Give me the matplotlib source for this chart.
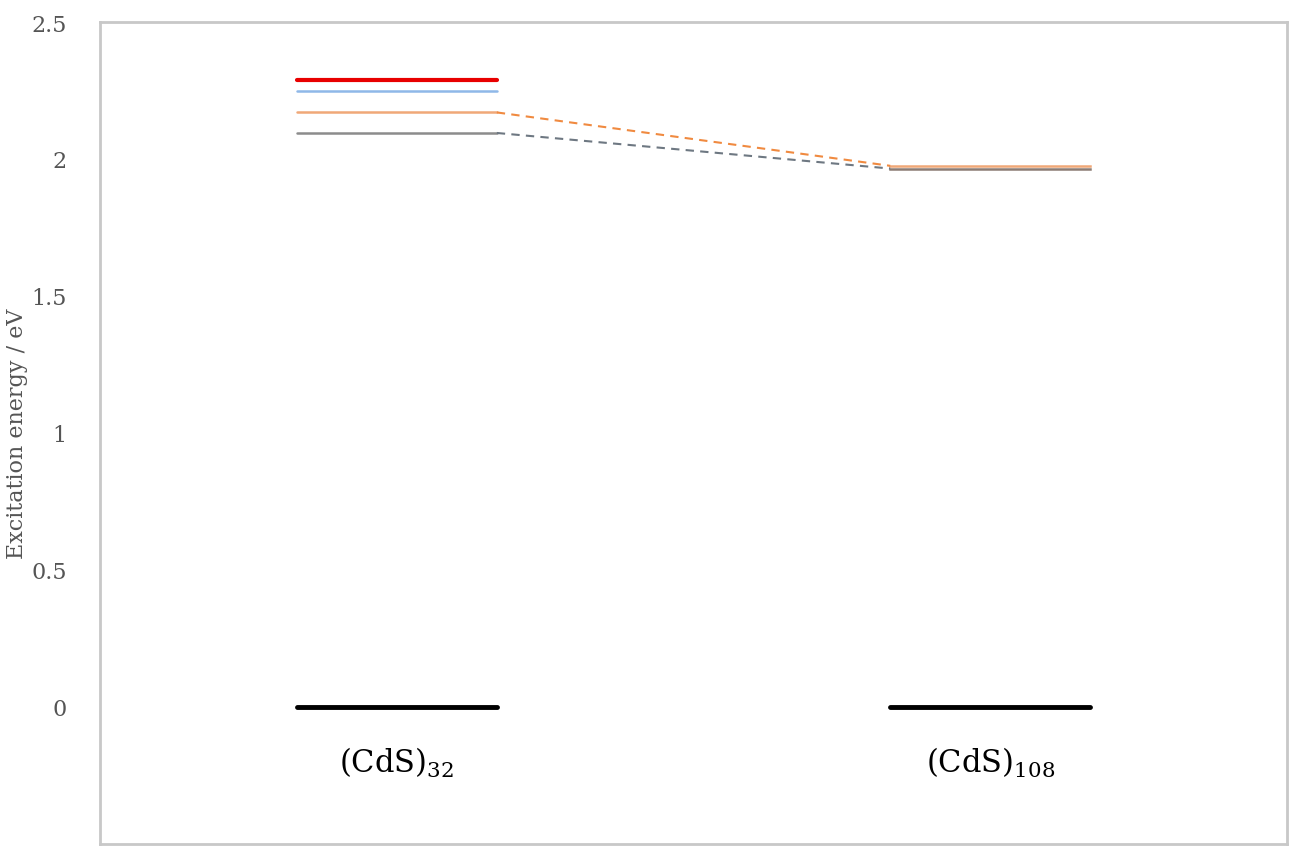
import numpy as np
import matplotlib
matplotlib.use("Agg")
import matplotlib.pyplot as plt

# cluster positions and names
clusters = ["(CdS)$_{32}$", "(CdS)$_{108}$"]
xpos = [1, 3]

# excitation levels (eV) for each cluster
levels_32 = [2.29, 2.25, 2.17, 2.095]
levels_108 = [1.975, 1.965]
ground = [0.0, 0.0]

lvl_colors_32 = ["#E80000", "#8FB8E8", "#F0A878", "#8C8C8C"]
lvl_widths_32 = [3.0, 1.8, 1.8, 1.8]
lvl_colors_108 = ["#F0A878", "#8C7C74"]

# dashed correlation lines: (level on 32, level on 108, colour)
links = [(2.17, 1.975, "#F08A40"), (2.095, 1.965, "#6E7882")]

half = 0.337
plt.rcParams['font.family'] = ['DejaVu Serif']
plt.rcParams['mathtext.fontset'] = 'dejavuserif'

fig, ax = plt.subplots(figsize=(13, 8.54), dpi=100)
fig.subplots_adjust(left=0.077, right=0.99, top=0.973, bottom=0.011)

for y, c, w in zip(levels_32, lvl_colors_32, lvl_widths_32):
    ax.plot([xpos[0] - half, xpos[0] + half], [y, y], color=c, lw=w, solid_capstyle='round')
for y, c in zip(levels_108, lvl_colors_108):
    ax.plot([xpos[1] - half, xpos[1] + half], [y, y], color=c, lw=1.8)

for y1, y2, c in links:
    ax.plot([xpos[0] + half, xpos[1] - half], [y1, y2], color=c, lw=1.5, ls=(0, (4, 3)))

for x, g in zip(xpos, ground):
    ax.plot([x - half, x + half], [g, g], color="black", lw=3.5, solid_capstyle='round')

for x, name in zip(xpos, clusters):
    ax.text(x, -0.2, name, ha='center', va='center', fontsize=22, color='black')

ax.set_xlim(0, 4)
ax.set_ylim(-0.5, 2.5)
ax.set_xticks([])
ax.set_yticks([0, 0.5, 1, 1.5, 2, 2.5])
ax.set_yticklabels(["0", "0.5", "1", "1.5", "2", "2.5"])
ax.tick_params(axis='y', length=0, pad=24, labelsize=16, labelcolor='#555555')
ax.set_ylabel("Excitation energy / eV", fontsize=16, color='#555555')
ax.yaxis.set_label_coords(-0.061, 0.5)

for s in ax.spines.values():
    s.set_color('#C8C8C8')
    s.set_linewidth(2)

fig.savefig("out.png", dpi=100)
